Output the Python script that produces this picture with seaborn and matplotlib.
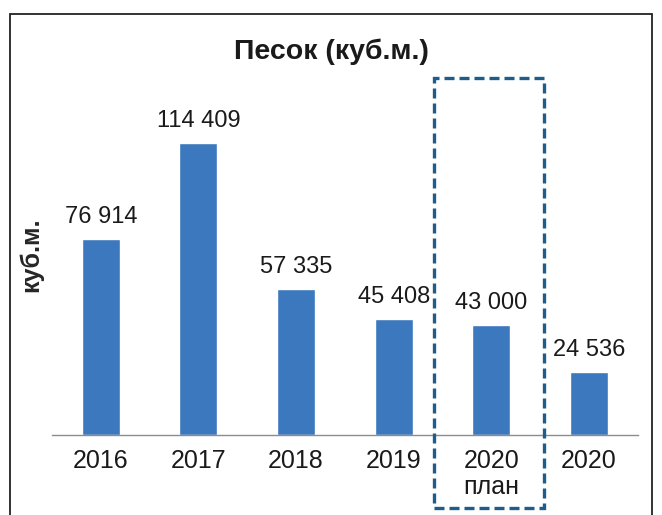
import matplotlib
matplotlib.use("Agg")
import matplotlib.pyplot as plt
import matplotlib.patches as mpatches
import matplotlib.transforms as mtransforms
import seaborn as sns
import pandas as pd

# data
categories = ["2016", "2017", "2018", "2019", "2020\nплан", "2020"]
volumes = [76914, 114409, 57335, 45408, 43000, 24536]

df = pd.DataFrame({"year": categories, "volume": volumes})

sns.set_style("white")
plt.rcParams["font.family"] = ["Liberation Sans", "DejaVu Sans"]

fig = plt.figure(figsize=(6.62, 5.15), dpi=100)
ax = fig.add_axes([0.0785, 0.1553, 0.885, 0.699])

sns.barplot(data=df, x="year", y="volume", order=categories, color="#3b78bd",
            saturation=1, width=0.39, ax=ax)

ax.set_xlim(-0.5, len(categories) - 0.5)
ax.set_ylim(0, 141000)
ax.set_yticks([])
ax.set_xlabel("")
ax.set_ylabel("куб.м.", fontsize=18, fontweight="bold", labelpad=6)

for side in ["left", "right", "top"]:
    ax.spines[side].set_visible(False)
ax.spines["bottom"].set_color("#8c8c8c")
ax.spines["bottom"].set_linewidth(1.0)

ax.tick_params(axis="x", which="major", length=0, pad=10, labelsize=18, colors="#1a1a1a")
for lbl in ax.get_xticklabels():
    lbl.set_linespacing(1.12)
ax.set_xticks([i - 0.5 for i in range(len(categories) + 1)], minor=True)
ax.tick_params(axis="x", which="minor", length=5, direction="out", color="#8c8c8c")

ax.bar_label(ax.containers[0],
             labels=[f"{v:,}".replace(",", " ") for v in volumes],
             padding=8, fontsize=17, color="#1a1a1a")

fig.text(0.5, 0.9, "Песок (куб.м.)", ha="center", va="center",
         fontsize=20.5, fontweight="bold", color="#1a1a1a")

# dashed box around the plan column
blend = mtransforms.blended_transform_factory(ax.transData, fig.transFigure)
plan_idx = 4
box = mpatches.Rectangle((plan_idx - 0.585, 1 - 508 / 515), 1.125, 430 / 515,
                         transform=blend, fill=False, edgecolor="#1e5d8a",
                         linewidth=2.4, linestyle=(0, (3, 1.5)), clip_on=False)
fig.add_artist(box)

# outer frame of the picture
frame = mpatches.Rectangle((10 / 662, -0.05), 642 / 662, 1.05 - 14 / 515,
                           transform=fig.transFigure, fill=False,
                           edgecolor="#222222", linewidth=1.3)
fig.add_artist(frame)

fig.savefig("out.png", dpi=100)
plt.close(fig)
